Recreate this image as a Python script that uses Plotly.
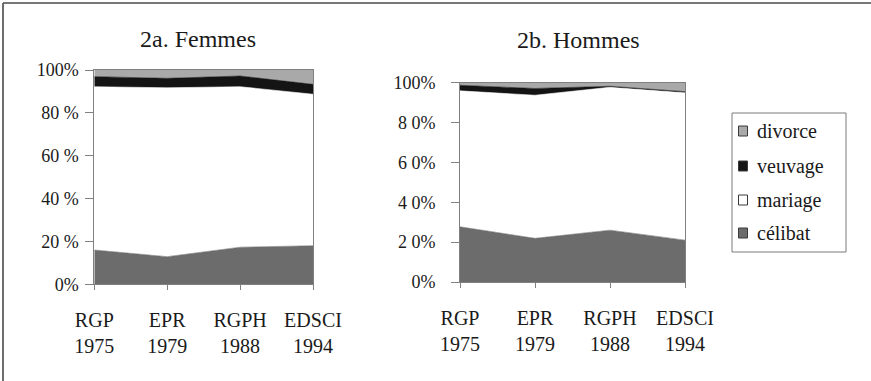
import plotly.graph_objects as go

# Survey / census rounds on the horizontal axis
periodes = ["RGP<br>1975", "EPR<br>1979", "RGPH<br>1988", "EDSCI<br>1994"]

# Marital status, bottom of the stack first
statuts = ["célibat", "mariage", "veuvage", "divorce"]
couleurs = ["#6c6c6c", "#ffffff", "#141414", "#a9a9a9"]

# 2a. Women (% of the population)
femmes_celibat = [16.0, 12.9, 17.3, 18.0]
femmes_mariage = [76.2, 78.8, 74.9, 70.7]
femmes_veuvage = [4.7, 4.4, 5.0, 4.6]
femmes_divorce = [3.1, 3.9, 2.8, 6.7]

# 2b. Men (% of the population)
hommes_celibat = [27.7, 21.9, 26.0, 21.0]
hommes_mariage = [68.2, 71.8, 71.7, 73.9]
hommes_veuvage = [2.8, 3.4, 0.5, 0.6]
hommes_divorce = [1.3, 2.9, 1.8, 4.5]

ticks_pct = [0, 20, 40, 60, 80, 100]
ticks_femmes = ["0%", "20 %", "40 %", "60 %", "80 %", "100%"]
ticks_hommes = ["0%", "2 0%", "4 0%", "6 0%", "8 0%", "100%"]

W, H = 871, 381
SERIF = "Liberation Serif, Times New Roman, serif"


def px(x):
    return x / W


def py(y):
    return 1 - y / H


fig = go.Figure()

panneaux = [
    ("x", "y", [femmes_celibat, femmes_mariage, femmes_veuvage, femmes_divorce]),
    ("x2", "y2", [hommes_celibat, hommes_mariage, hommes_veuvage, hommes_divorce]),
]
for xa, ya, series in panneaux:
    for nom, couleur, valeurs in zip(statuts, couleurs, series):
        fig.add_trace(go.Scatter(
            x=periodes, y=valeurs, name=nom, mode="lines",
            stackgroup="pile_" + xa, fillcolor=couleur,
            line=dict(width=0.6, color=couleur),
            xaxis=xa, yaxis=ya, showlegend=False, hoverinfo="x+y+name",
        ))

axe_x = dict(
    type="category", range=[0, 3], showline=True, linecolor="#808080",
    linewidth=1, mirror=True, ticks="outside", ticklen=5, tickcolor="#808080",
    showgrid=False, zeroline=False, ticklabelstandoff=13, automargin=False,
    tickfont=dict(family=SERIF, size=20, color="#1a1a1a"),
)
axe_y = dict(
    range=[0, 100], tickvals=ticks_pct, showline=True, linecolor="#808080",
    linewidth=1, mirror=True, ticks="outside", ticklen=8, tickcolor="#808080",
    showgrid=False, zeroline=False, automargin=False,
    tickfont=dict(family=SERIF, size=18, color="#1a1a1a"),
)

fig.update_layout(
    width=W, height=H, margin=dict(l=0, r=0, t=0, b=0, autoexpand=False),
    paper_bgcolor="white", plot_bgcolor="white", showlegend=False,
    xaxis=dict(axe_x, domain=[px(94.3), px(313)], anchor="y"),
    yaxis=dict(axe_y, domain=[py(284.3), py(70)], anchor="x",
               ticktext=ticks_femmes, ticklabelstandoff=3),
    xaxis2=dict(axe_x, domain=[px(460), px(685)], anchor="y2"),
    yaxis2=dict(axe_y, domain=[py(282), py(82.7)], anchor="x2",
                ticktext=ticks_hommes, ticklabelstandoff=12),
)

# Panel titles
for texte, cx, cy in [("2a. Femmes", 198, 39), ("2b. Hommes", 578, 40)]:
    fig.add_annotation(
        text=texte, x=px(cx), y=py(cy), xref="paper", yref="paper",
        xanchor="center", yanchor="middle", showarrow=False,
        font=dict(family=SERIF, size=24, color="#1a1a1a"),
    )

# Outer frame (top and left edges)
cadre = dict(color="#4a4a4a", width=1.6)
fig.add_shape(type="line", xref="paper", yref="paper",
              x0=px(3), y0=py(3), x1=1, y1=py(3), line=cadre)
fig.add_shape(type="line", xref="paper", yref="paper",
              x0=px(3), y0=py(3), x1=px(3), y1=0, line=cadre)

# Shared legend box, top entry first
fig.add_shape(type="rect", xref="paper", yref="paper",
              x0=px(732), y0=py(252), x1=px(846), y1=py(113),
              line=dict(color="#7a7a7a", width=1), fillcolor="white")
lignes = [131, 166, 200, 233]
for (nom, couleur), cy in zip(list(zip(statuts, couleurs))[::-1], lignes):
    fig.add_shape(type="rect", xref="paper", yref="paper",
                  x0=px(738.5), y0=py(cy + 5), x1=px(747.5), y1=py(cy - 5),
                  line=dict(color="#3a3a3a", width=1), fillcolor=couleur)
    fig.add_annotation(
        text=nom, x=px(755), y=py(cy), xref="paper", yref="paper",
        xanchor="left", yanchor="middle", showarrow=False,
        font=dict(family=SERIF, size=20, color="#1a1a1a"),
    )

fig.write_html("out.html")
